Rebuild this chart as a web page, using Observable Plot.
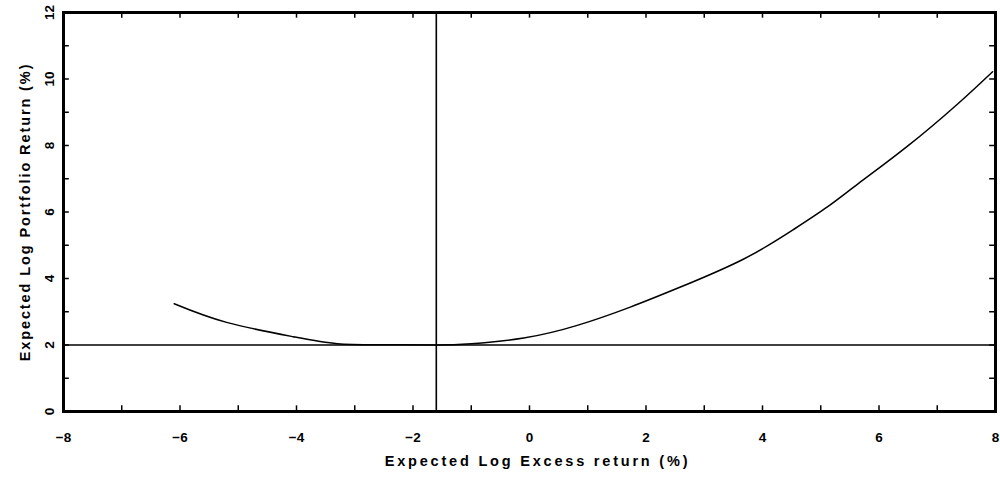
<!DOCTYPE html>
<html>
<head>
<meta charset="utf-8">
<script src="https://cdn.jsdelivr.net/npm/d3@7"></script>
<script src="https://cdn.jsdelivr.net/npm/@observablehq/plot@0.6"></script>
<style>
  html, body { margin: 0; padding: 0; background: #fff; }
  #chart svg { display: block; }
</style>
</head>
<body>
<div id="chart"></div>
<script>
// Expected log portfolio return against expected log excess return (both in %)
const excessReturn = [-6.1, -5.2, -4.06, -3.3, -2.5, -1.6, -1.0, -0.1, 0.82, 1.73, 2.56, 3.67, 4.53, 5.12, 5.65, 6.49, 7.35, 7.95];
const portfolioReturn = [3.24, 2.68, 2.25, 2.04, 2.01, 2.0, 2.04, 2.21, 2.59, 3.14, 3.72, 4.58, 5.47, 6.16, 6.86, 7.98, 9.25, 10.22];

// Reference lines: riskless log return and the excess return at the minimum
const risklessReturn = 2;
const minimumExcess = -1.6;

// Axis ticks
const xLabelTicks = [-8, -6, -4, -2, 0, 2, 4, 6, 8];
const yLabelTicks = [0, 2, 4, 6, 8, 10, 12];
const xMinorTicks = [-7, -6, -5, -4, -3, -2, -1, 0, 1, 2, 3, 4, 5, 6, 7];
const yMinorTicks = [1, 2, 3, 4, 5, 6, 7, 8, 9, 10, 11];

// Axis titles
const xTitle = "Expected Log Excess return (%)";
const yTitle = "Expected Log Portfolio Return (%)";

const curve = excessReturn.map((x, i) => ({x, y: portfolioReturn[i]}));

const font = "'Liberation Sans', Arial, sans-serif";
const fmt = d => d < 0 ? "\u2212" + Math.abs(d) : String(d);

const chart = Plot.plot({
  width: 1000,
  height: 478,
  marginLeft: 63,
  marginRight: 5,
  marginTop: 12,
  marginBottom: 67,
  style: {fontFamily: font, background: "#fff", color: "#000"},
  x: {domain: [-8, 8], axis: null},
  y: {domain: [0, 12], axis: null},
  marks: [
    // inward ticks on all four sides
    Plot.ruleX(xMinorTicks, {x: d => d, y1: 0, y2: 0.17, stroke: "#000", strokeWidth: 1.5}),
    Plot.ruleX(xMinorTicks, {x: d => d, y1: 12, y2: 11.83, stroke: "#000", strokeWidth: 1.5}),
    Plot.ruleY(yMinorTicks, {y: d => d, x1: -8, x2: -7.9, stroke: "#000", strokeWidth: 1.5}),
    Plot.ruleY(yMinorTicks, {y: d => d, x1: 8, x2: 7.9, stroke: "#000", strokeWidth: 1.5}),
    // reference lines
    Plot.ruleY([risklessReturn], {stroke: "#000", strokeWidth: 1.6}),
    Plot.ruleX([minimumExcess], {stroke: "#000", strokeWidth: 1.6}),
    // the curve
    Plot.line(curve, {x: "x", y: "y", curve: "natural", stroke: "#000", strokeWidth: 1.5}),
    Plot.frame({stroke: "#000", strokeWidth: 3}),
    // tick labels
    Plot.text(xLabelTicks, {x: d => d, y: 0, dy: 26, text: fmt, fontSize: 13.5, fontWeight: "bold"}),
    Plot.text(yLabelTicks, {x: -8, y: d => d, dx: -14, rotate: -90, text: fmt, fontSize: 13.5, fontWeight: "bold"}),
    // axis titles
    Plot.text([xTitle], {frameAnchor: "bottom", dx: 8, dy: 54, text: d => d, textAnchor: "middle", fontSize: 14.5, fontWeight: "bold"}),
    Plot.text([yTitle], {frameAnchor: "left", dx: -38, rotate: -90, text: d => d, textAnchor: "middle", fontSize: 14.5, fontWeight: "bold"})
  ]
});

// widen the tracking of the two axis titles
d3.select(chart).selectAll("text")
  .filter(function() { return this.textContent === xTitle; })
  .attr("letter-spacing", "2.8px");
d3.select(chart).selectAll("text")
  .filter(function() { return this.textContent === yTitle; })
  .attr("letter-spacing", "1.9px");

document.getElementById("chart").append(chart);
</script>
</body>
</html>
